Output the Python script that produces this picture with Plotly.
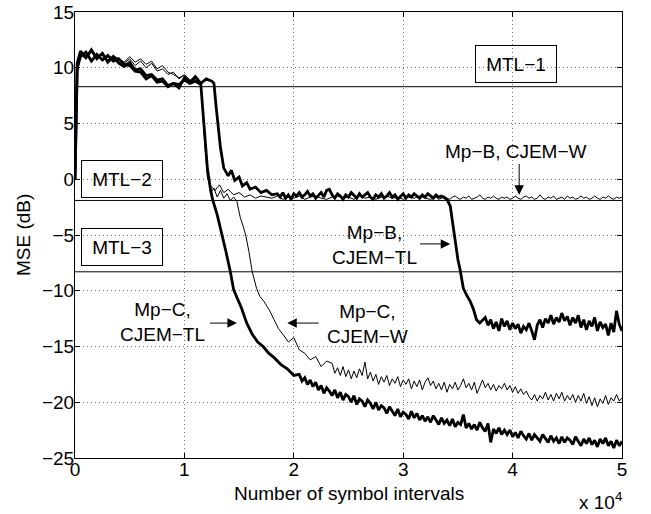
import numpy as np
import plotly.graph_objects as go


def grid(start, stop, step):
    return list(np.round(np.arange(start, stop + step / 2, step), 3))


# ---------------- data (x in units of 10^4 symbol intervals, y = MSE in dB) ----------------
P1_X = [0, 0.02, 0.05, 0.1, 0.15, 0.2, 0.25, 0.3, 0.35, 0.4, 0.45, 0.5, 0.55, 0.6,
        0.65, 0.7, 0.75, 0.8, 0.85, 0.9, 0.95, 1.0, 1.05, 1.1]

# Mp-B, CJEM-W (thin)
bw_x = P1_X + [1.15, 1.18, 1.21, 1.24, 1.28, 1.32, 1.36, 1.4, 1.45, 1.5, 1.55, 1.6, 1.65, 1.7] \
       + grid(1.75, 3.25, 0.05) + grid(3.275, 5.0, 0.025)
bw_y = [0, 10.0, 11.2, 10.8, 11.4, 10.9, 11.2, 10.7, 11.1, 10.8, 10.5, 11.0, 10.5, 10.8,
        10.3, 10.6, 9.9, 10.2, 9.6, 9.4, 9.1, 9.3, 8.8, 9.0] \
     + [8.6, 4.0, 0.2, -0.6, -1.0, -0.5, -1.2, -0.9, -1.4, -1.2, -1.6, -1.4, -1.7, -1.5] \
     + [-1.6, -1.7, -1.5, -1.8, -1.6, -1.7, -1.5, -1.8, -1.6, -1.5, -1.7, -1.8, -1.6, -1.5,
        -1.7, -1.6, -1.8, -1.5, -1.7, -1.6, -1.8, -1.6, -1.5, -1.7, -1.6, -1.8, -1.6, -1.7,
        -1.5, -1.7, -1.8] \
     + [-1.7, -1.6, -1.8, -1.7, -1.5, -1.7, -1.8, -1.6, -1.5, -1.7, -1.8, -1.6,
        -1.7, -1.5, -1.8, -1.7, -1.6, -1.4, -1.7, -1.8, -1.6, -1.7, -1.5, -1.7,
        -1.8, -1.6, -1.7, -1.6, -1.8, -1.7, -1.5, -1.7, -1.8, -1.6, -1.5, -1.7,
        -1.6, -1.8, -1.7, -1.4, -1.7, -1.8, -1.6, -1.7, -1.5, -1.8, -1.7, -1.6,
        -1.8, -1.5, -1.7, -1.6, -1.8, -1.7, -1.5, -1.7, -1.6, -1.8, -1.7, -1.5,
        -1.7, -1.8, -1.6, -1.7, -1.5, -1.7, -1.8, -1.6, -1.7, -1.6]

# Mp-C, CJEM-W (thin)
cw_x = P1_X + [1.15, 1.18, 1.21, 1.24, 1.27, 1.3, 1.33, 1.36, 1.39, 1.42, 1.45, 1.48, 1.51,
               1.54, 1.56, 1.59, 1.62, 1.66, 1.69, 1.73, 1.78, 1.82, 1.86, 1.9, 1.95, 2.0,
               2.05, 2.1, 2.15, 2.2, 2.25, 2.3] \
       + grid(2.35, 5.0, 0.025)
cw_y = [0, 9.6, 10.9, 11.3, 10.7, 11.1, 10.6, 11.0, 10.5, 10.9, 10.4, 10.8, 10.2, 10.6,
        10.0, 10.4, 9.7, 9.9, 9.4, 9.6, 9.0, 9.4, 8.9, 8.7] \
     + [8.5, 4.5, 0.5, -1.2, -0.8, -1.6, -1.0, -1.7, -1.3, -1.9, -1.6, -2.0, -3.4,
        -4.3, -5.0, -6.5, -8.3, -9.8, -10.5, -11.0, -11.8, -12.6, -13.4, -13.9, -14.6, -14.2,
        -15.3, -15.6, -16.2, -15.9, -16.8, -16.3] \
     + [-16.5, -17.4, -16.9, -17.6, -16.8, -17.7, -17.1, -17.9, -17.2, -17.8, -17.0, -17.6,
        -16.4, -17.9, -17.3, -18.1, -17.5, -18.4, -17.7, -18.2, -17.6, -18.5, -17.9, -18.3,
        -17.7, -18.6, -18.0, -18.4, -17.9, -18.8, -18.1, -18.6, -18.0, -18.9, -18.2, -17.8,
        -18.5, -18.1, -18.8, -18.3, -18.9, -18.2, -19.1, -18.4, -18.8, -18.2, -18.9, -18.5,
        -17.9, -18.7, -18.3, -18.9, -18.2, -19.2, -18.5, -18.0, -18.7, -18.3, -18.9, -18.4,
        -19.0, -18.5, -18.8, -18.3, -18.9, -18.5, -19.1, -18.6, -19.2, -18.8, -19.3, -19.0,
        -19.5, -19.8, -19.3, -19.9, -19.4, -19.7, -19.1, -19.8, -19.3, -19.9, -19.2, -19.7,
        -19.1, -19.9, -19.4, -19.8, -19.3, -20.0, -19.4, -19.9, -19.2, -20.1, -19.5, -20.3,
        -19.6, -20.4, -19.7, -20.1, -19.4, -20.2, -19.6, -19.9, -19.3, -19.9, -19.6]

# Mp-B, CJEM-TL (thick)
bt_x = P1_X + [1.15, 1.2, 1.25, 1.27, 1.29, 1.31, 1.33, 1.36, 1.4, 1.43, 1.46, 1.5, 1.53,
               1.57, 1.6, 1.65, 1.7, 1.75, 1.8] \
       + grid(1.85, 3.35, 0.025) \
       + [3.4, 3.43, 3.46, 3.48, 3.5, 3.52, 3.55, 3.58, 3.61, 3.64, 3.67, 3.7] \
       + grid(3.75, 5.0, 0.025)
bt_y = [0, 10.4, 11.5, 10.9, 11.6, 10.8, 11.3, 10.5, 11.0, 10.4, 10.1, 10.5, 9.8, 9.9,
        9.3, 9.4, 8.9, 9.0, 8.4, 8.6, 8.2, 9.1, 8.7, 9.2] \
     + [8.6, 9.0, 8.8, 8.6, 6.5, 4.5, 2.8, 1.0, 0.3, 0.8, -0.1, 0.2, -0.6,
        -0.3, -0.9, -0.7, -1.2, -1.0, -1.4] \
     + [-1.3, -1.6, -1.2, -1.7, -1.4, -1.8, -1.3, -1.5, -1.2, -1.6, -1.4, -1.1,
        -1.5, -1.3, -1.7, -1.4, -1.2, -1.6, -1.0, -0.9, -1.4, -1.7, -1.3, -1.5,
        -1.8, -1.4, -1.6, -1.2, -1.5, -1.7, -1.3, -1.6, -1.4, -1.2, -1.6, -1.8,
        -1.4, -1.6, -1.3, -1.7, -1.5, -1.2, -1.6, -1.4, -1.8, -1.5, -1.3, -1.7,
        -1.4, -1.6, -1.3, -1.5, -1.7, -1.4, -1.6, -1.3, -1.5, -1.7, -1.4, -1.6, -1.5] \
     + [-1.8, -2.4, -4.5, -6.0, -7.2, -8.1, -9.8, -10.4, -10.9, -11.6, -12.6, -12.9] \
     + [-12.4, -13.1, -12.6, -13.4, -12.8, -13.6, -12.5, -13.2, -12.7, -13.5, -12.9, -13.4,
        -13.0, -13.8, -13.2, -13.5, -12.9, -13.6, -14.4, -13.1, -12.6, -13.3, -12.5, -12.9,
        -12.2, -13.0, -12.4, -12.8, -12.0, -12.7, -12.3, -13.1, -12.4, -12.9, -12.2, -13.3,
        -12.6, -13.5, -12.7, -13.2, -12.4, -13.6, -12.8, -13.3, -13.0, -14.0, -12.9, -13.7,
        -11.8, -13.0, -13.6]

# Mp-C, CJEM-TL (thick)
ct_x = P1_X + [1.15, 1.18, 1.21, 1.24, 1.26, 1.3, 1.34, 1.38, 1.42, 1.45, 1.48, 1.52, 1.57,
               1.62, 1.67, 1.72, 1.77, 1.82, 1.88, 1.94, 2.0] \
       + grid(2.05, 5.0, 0.025)
ct_y = [0, 10.0, 11.0, 11.4, 10.6, 11.2, 10.7, 11.1, 10.6, 10.8, 10.3, 10.2, 9.7, 9.6,
        9.0, 9.3, 8.7, 8.8, 8.3, 8.6, 8.5, 8.9, 8.6, 8.8] \
     + [8.5, 5.0, 1.0, -1.0, -1.9, -3.2, -4.8, -6.5, -8.3, -9.9, -10.6, -11.5, -12.9,
        -13.9, -14.6, -15.0, -15.6, -16.0, -16.6, -17.0, -17.6] \
     + [-17.5, -18.1, -17.8, -18.4, -18.0, -18.6, -18.2, -18.9, -18.5, -19.2, -18.7, -19.0,
        -19.4, -18.9, -19.6, -19.1, -19.8, -19.3, -19.5, -20.0, -19.4, -20.2, -19.7, -19.9,
        -20.4, -19.8, -20.1, -20.6, -20.0, -20.7, -20.3, -20.5, -21.0, -20.4, -20.8, -21.2,
        -20.6, -21.3, -20.9, -21.1, -21.5, -20.8, -21.4, -21.0, -21.6, -21.2, -21.7, -21.3,
        -21.8, -21.2, -21.6, -22.0, -21.4, -21.9, -21.6, -22.1, -21.5, -22.2, -21.8, -22.0,
        -21.1, -22.3, -21.9, -22.4, -22.0, -22.5, -21.8, -22.3, -22.6, -21.9, -23.6, -22.4,
        -22.8, -22.3, -22.9, -22.5, -22.9, -22.5, -23.1, -22.7, -23.2, -22.6, -23.0, -23.3,
        -22.8, -23.4, -22.9, -23.2, -23.5, -22.9, -23.3, -23.6, -23.0, -23.5, -23.2, -23.7,
        -23.1, -23.6, -23.2, -23.4, -23.8, -23.1, -23.5, -23.9, -23.3, -23.7, -23.2, -23.8,
        -23.4, -24.0, -23.3, -23.7, -23.2, -23.9, -23.5, -24.1, -23.4, -23.9, -23.5]

# MTL thresholds (dB)
mtl_names = ["MTL−1", "MTL−2", "MTL−3"]
mtl_levels = [8.3, -1.9, -8.3]

x_ticks = [0, 1, 2, 3, 4, 5]
y_ticks = [-25, -20, -15, -10, -5, 0, 5, 10, 15]

assert len(bw_x) == len(bw_y), (len(bw_x), len(bw_y))
assert len(cw_x) == len(cw_y), (len(cw_x), len(cw_y))
assert len(bt_x) == len(bt_y), (len(bt_x), len(bt_y))
assert len(ct_x) == len(ct_y), (len(ct_x), len(ct_y))

# ---------------- figure ----------------
FONT = "Liberation Sans, Arial, Helvetica, sans-serif"
FS = 19
fig = go.Figure()

for lvl in mtl_levels:
    fig.add_trace(go.Scatter(x=[0, 5], y=[lvl, lvl], mode="lines",
                             line=dict(color="black", width=1), hoverinfo="skip"))

for xs, ys in [(bw_x, bw_y), (cw_x, cw_y)]:
    fig.add_trace(go.Scatter(x=xs, y=ys, mode="lines",
                             line=dict(color="black", width=1)))
for xs, ys in [(ct_x, ct_y), (bt_x, bt_y)]:
    fig.add_trace(go.Scatter(x=xs, y=ys, mode="lines",
                             line=dict(color="black", width=2.8)))

ann = []
# MTL boxes
box_pos = [(4.03, 10.35), (0.43, 0.05), (0.43, -6.1)]
for name, (bx, by) in zip(mtl_names, box_pos):
    ann.append(dict(x=bx, y=by, xref="x", yref="y", text=name, showarrow=False,
                    font=dict(size=FS), bordercolor="black", borderwidth=1,
                    borderpad=1, width=78, height=34, bgcolor="rgba(0,0,0,0)"))

# curve labels
labels = [
    ("Mp−B, CJEM−W", 4.03, 2.45),
    ("Mp−B,<br>CJEM−TL", 2.74, -5.9),
    ("Mp−C,<br>CJEM−TL", 0.8, -12.8),
    ("Mp−C,<br>CJEM−W", 2.67, -13.0),
]
for t, lx, ly in labels:
    ann.append(dict(x=lx, y=ly, xref="x", yref="y", text=t, showarrow=False,
                    font=dict(size=FS)))

# arrows: (tail_x, tail_y, head_x, head_y)
arrows = [
    (4.06, 1.5, 4.06, -1.4),
    (3.14, -5.8, 3.43, -5.8),
    (1.22, -12.9, 1.48, -12.9),
    (2.24, -12.9, 1.94, -12.9),
]
for tx, ty, hx, hy in arrows:
    ann.append(dict(x=hx, y=hy, ax=tx, ay=ty, xref="x", yref="y", axref="x", ayref="y",
                    text="", showarrow=True, arrowhead=2, arrowsize=1.9, arrowwidth=1,
                    arrowcolor="black"))

# axis titles and exponent
ann.append(dict(x=0.5, y=-0.08, xref="paper", yref="paper", text="Number of symbol intervals",
                showarrow=False, font=dict(size=FS), xanchor="center", yanchor="middle"))
ann.append(dict(x=-0.095, y=0.5, xref="paper", yref="paper", text="MSE (dB)", textangle=-90,
                showarrow=False, font=dict(size=FS), xanchor="center", yanchor="middle"))
ann.append(dict(x=0.96, y=-0.096, xref="paper", yref="paper", text="x 10<sup>4</sup>",
                showarrow=False, font=dict(size=FS), xanchor="center", yanchor="middle"))

axis_common = dict(showline=True, linecolor="black", linewidth=1, mirror="ticks",
                   ticks="inside", ticklen=5, tickcolor="black", tickwidth=1,
                   showgrid=True, gridcolor="#707070", griddash="1px,3px", gridwidth=1,
                   zeroline=False, automargin=False,
                   tickfont=dict(size=FS, color="black"))

fig.update_layout(
    width=651, height=514,
    margin=dict(l=75, r=29, t=12, b=56, pad=0),
    paper_bgcolor="white", plot_bgcolor="white",
    font=dict(family=FONT, color="black", size=FS),
    showlegend=False,
    annotations=ann,
    xaxis=dict(range=[0, 5], tickvals=x_ticks, ticklabelstandoff=-6, **axis_common),
    yaxis=dict(range=[-25, 15], tickvals=y_ticks, ticklabelstandoff=-4, **axis_common),
)

fig.write_html("out.html", config={"displayModeBar": False},
               post_script="document.body.style.margin='0px';")
